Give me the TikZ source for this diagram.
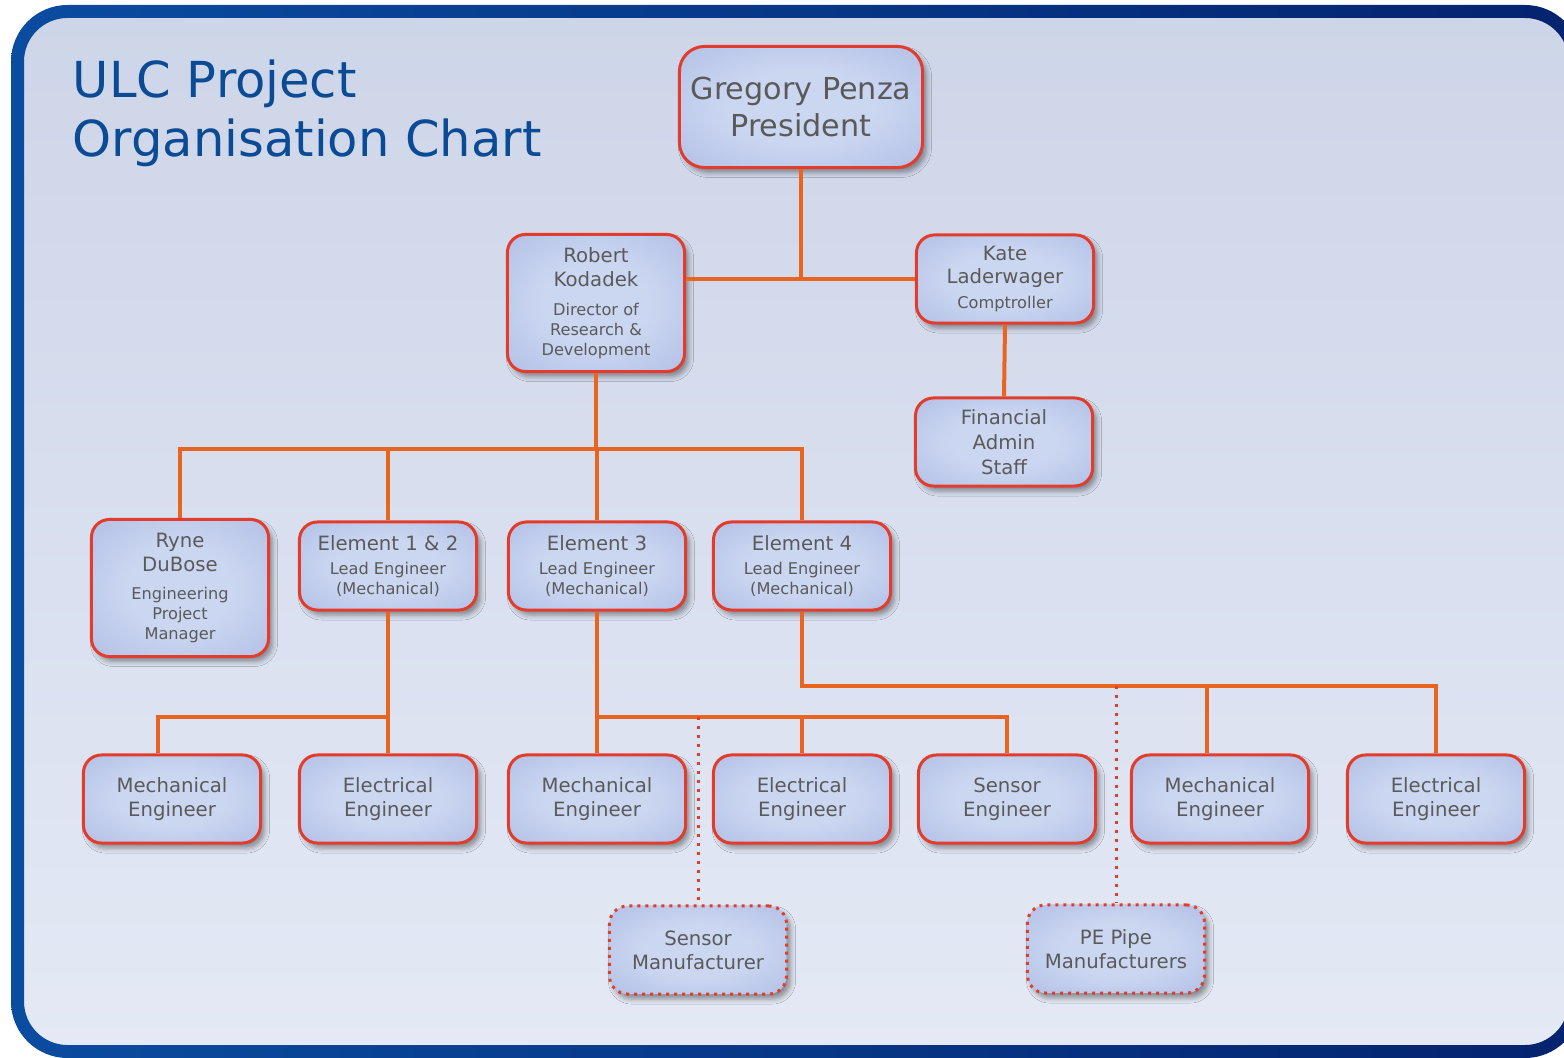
\documentclass[tikz,border=0pt]{standalone}
\usepackage{fontspec}
\setmainfont{DejaVu Sans}
\usetikzlibrary{calc, positioning, shadows.blur}

\definecolor{frameL}{HTML}{0A4CA0}
\definecolor{frameR}{HTML}{04236F}
\definecolor{bgtop}{HTML}{CDD5E8}
\definecolor{bgbot}{HTML}{E4E9F5}
\definecolor{titlebl}{HTML}{0B4A94}
\definecolor{linkor}{HTML}{E8641F}
\definecolor{boxrd}{HTML}{E23D2C}
\definecolor{boxin}{HTML}{CBD7F1}
\definecolor{boxout}{HTML}{A2B0DE}
\definecolor{txtgr}{HTML}{5A5A5A}

\pgfdeclareradialshading{boxglow}{\pgfpoint{0bp}{0bp}}{color(0bp)=(boxin); color(15bp)=(boxin); color(50bp)=(boxout); color(75bp)=(boxout)}

\newcommand\nmfont{\fontsize{5.6}{6.8}\selectfont}
\newcommand\rlfont{\fontsize{4.6}{5.7}\selectfont}
\newcommand\prfont{\fontsize{8.6}{10.8}\selectfont}
\newcommand\ttlfont{\fontsize{14.1}{17}\selectfont}

\begin{document}
\begin{tikzpicture}[
		x=0.01cm, y=-0.01cm,
		box/.style={draw=boxrd, line width=0.03cm, rounded corners=0.18cm, shade, shading=boxglow,
			blur shadow={shadow xshift=0.04cm, shadow yshift=-0.05cm, shadow blur radius=0.05cm, shadow opacity=40},
			minimum width=1.77cm, minimum height=0.88cm, inner sep=0pt, align=center, text=txtgr, font=\nmfont},
		tallbox/.style={box, minimum height=1.37cm},
		dotbox/.style={box, dash pattern=on 0.03cm off 0.05cm},
		link/.style={draw=linkor, line width=0.04cm},
		dotlink/.style={draw=boxrd, line width=0.03cm, dash pattern=on 0.03cm off 0.06cm},
	]
	\useasboundingbox (0,0) rectangle (1564,1058);
	% background and frame
	\begin{scope}
		\clip (0,0) rectangle (1564,1058);
		\shade[top color=bgtop, bottom color=bgbot, rounded corners=0.5cm] (17.5,11.5) rectangle (1575,1051.5);
		\shade[left color=frameL, right color=frameR, even odd rule]
			[rounded corners=0.565cm] (11,5) rectangle (1581.5,1058)
			[rounded corners=0.435cm] (24,18) rectangle (1568.5,1045);
	\end{scope}

	\node[anchor=base west, align=left, inner sep=0pt, text=titlebl, font=\ttlfont] (title) at (72,157) {ULC Project\\Organisation Chart};

	% people
	\node[box, minimum width=2.43cm, minimum height=1.21cm, rounded corners=0.25cm, font=\prfont] (pres) at (801,107) {Gregory Penza\\President};
	\node[tallbox] (rob) at (596,303) {Robert\\Kodadek\\[1.4pt]{\rlfont Director of}\\[-1.1pt]{\rlfont Research \&}\\[-1.1pt]{\rlfont Development}};
	\node[box] (kate) at (1005,279) {Kate\\Laderwager\\[0.3pt]{\rlfont Comptroller}};
	\node[box] (fin) at (1004,442) {Financial\\[0.3pt]Admin\\[0.3pt]Staff};

	\node[tallbox] (ryne) at (180,588) {Ryne\\DuBose\\[1.1pt]{\rlfont Engineering}\\[-1.1pt]{\rlfont Project}\\[-1.1pt]{\rlfont Manager}};
	\node[box] (el12) at (388,566) {Element 1 \& 2\\{\rlfont Lead Engineer}\\[-1.1pt]{\rlfont (Mechanical)}};
	\node[box] (el3) at (597,566) {Element 3\\{\rlfont Lead Engineer}\\[-1.1pt]{\rlfont (Mechanical)}};
	\node[box] (el4) at (802,566) {Element 4\\{\rlfont Lead Engineer}\\[-1.1pt]{\rlfont (Mechanical)}};

	\node[box] (meA) at (172,799) {Mechanical\\Engineer};
	\node[box] (eeA) at (388,799) {Electrical\\Engineer};
	\node[box] (meB) at (597,799) {Mechanical\\Engineer};
	\node[box] (eeB) at (802,799) {Electrical\\Engineer};
	\node[box] (seng) at (1007,799) {Sensor\\Engineer};
	\node[box] (meC) at (1220,799) {Mechanical\\Engineer};
	\node[box] (eeC) at (1436,799) {Electrical\\Engineer};

	\node[dotbox] (smf) at (698,950) {Sensor\\Manufacturer};
	\node[dotbox] (pef) at (1116,949) {PE Pipe\\Manufacturers};

	% top level
	\draw[link] (pres.south) -- (pres.south |- kate.west);
	\draw[link] (rob.east |- kate.west) -- (kate.west);
	\draw[link] (kate.south) -- (fin.north);

	% research & development
	\coordinate (rdbus) at ($(rob.south)+(0,76)$);
	\draw[link] (rob.south) -- (rdbus);
	\draw[link] (ryne.north) |- (rdbus) -| (el4.north);
	\draw[link] (el12.north) -- (el12.north |- rdbus);
	\draw[link] (el3.north) -- (el3.north |- rdbus);

	% element 1 & 2
	\coordinate (busA) at ($(el12.south)+(0,105)$);
	\draw[link] (el12.south) -- (eeA.north);
	\draw[link] ($(meA.north)+(-14,0)$) |- (busA);

	% element 3
	\coordinate (busB) at ($(el3.south)+(0,105)$);
	\draw[link] (el3.south) -- (meB.north);
	\draw[link] (busB) -| (seng.north);
	\draw[link] (eeB.north) -- (eeB.north |- busB);
	\draw[dotlink] (smf.north |- busB) -- (smf.north);

	% element 4
	\coordinate (busC) at ($(el4.south)+(0,74)$);
	\draw[link] (el4.south) -- (busC) -| (eeC.north);
	\draw[link] ($(meC.north)+(-13,0)$) coordinate (mctop) -- (mctop |- busC);
	\draw[dotlink] (pef.north |- busC) -- (pef.north);
\end{tikzpicture}
\end{document}
